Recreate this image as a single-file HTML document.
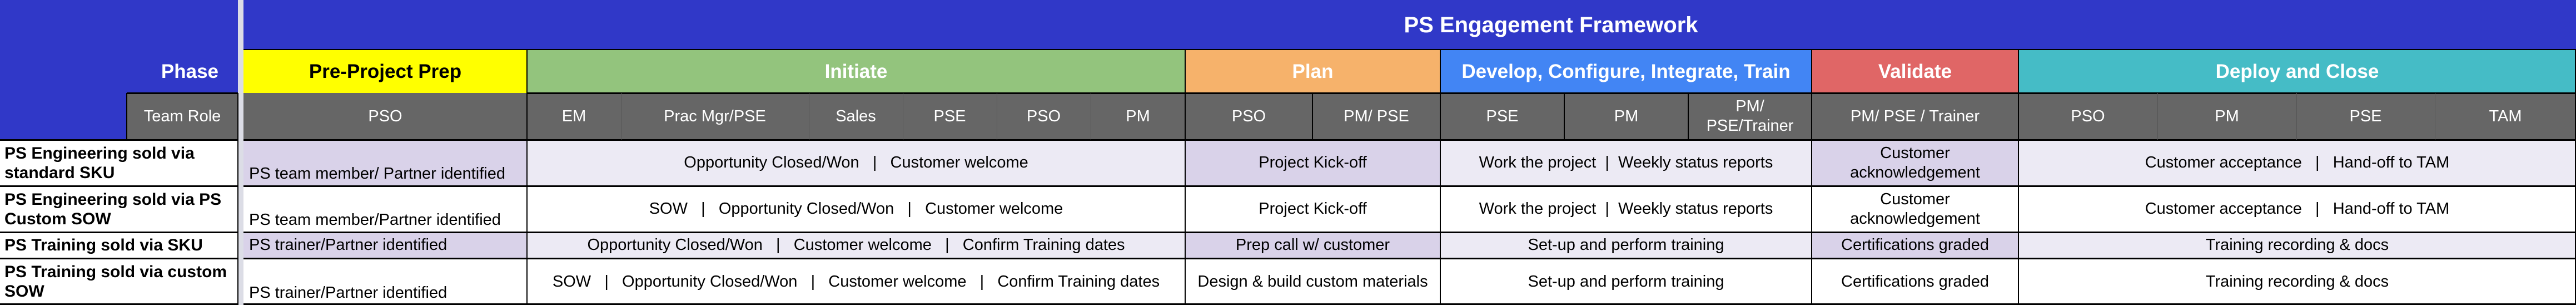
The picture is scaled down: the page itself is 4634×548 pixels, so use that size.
<!DOCTYPE html>
<html><head><meta charset="utf-8"><style>
*{margin:0;padding:0;box-sizing:border-box}
body{width:4634px;height:548px;position:relative;background:#fff;font-family:"Liberation Sans",Arial,sans-serif;overflow:hidden}
.c{position:absolute;display:flex;align-items:center;justify-content:center;text-align:center;font-size:29px;color:#000;line-height:35px;white-space:nowrap}
.h{font-weight:bold;font-size:35px;color:#fff}
.r{color:#fff;font-size:29px;background:#666}
.b{align-items:flex-end;padding-bottom:4px;justify-content:flex-start;padding-left:10px}
.lbl{justify-content:flex-start;text-align:left;font-weight:bold;padding-left:8px;font-size:30px}
.l{position:absolute;background:#000}
.s{position:absolute;background:#555}
.lt{background:#ECEAF4}.dk{background:#D9D2E9}
</style></head><body>
<div class="c" style="left:0;top:0;width:4634px;height:251px;background:#3038C8"></div>
<div class="c" style="left:428px;top:0;width:10px;height:548px;background:#DCDDE6"></div>
<div class="c h" style="left:2400px;top:10px;width:780px;height:70px;font-size:40px">PS Engagement Framework</div>
<div class="c h" style="left:228px;top:89px;width:200px;height:78px;justify-content:flex-end;padding-right:35px">Phase</div>
<div class="c r" style="left:228px;top:167px;width:200px;height:84px">Team Role</div>

<div class="c h" style="left:438px;top:89px;width:510px;height:78px;background:#FFFF00;color:#000">Pre-Project Prep</div>
<div class="c h" style="left:948px;top:89px;width:1184px;height:78px;background:#93C47D">Initiate</div>
<div class="c h" style="left:2132px;top:89px;width:459px;height:78px;background:#F6B26B">Plan</div>
<div class="c h" style="left:2591px;top:89px;width:668px;height:78px;background:#4285F4">Develop, Configure, Integrate, Train</div>
<div class="c h" style="left:3259px;top:89px;width:372px;height:78px;background:#E06666">Validate</div>
<div class="c h" style="left:3631px;top:89px;width:1003px;height:78px;background:#45BCC6">Deploy and Close</div>

<div class="c r" style="left:438px;top:167px;width:510px;height:84px">PSO</div>
<div class="c r" style="left:948px;top:167px;width:169px;height:84px">EM</div>
<div class="c r" style="left:1117px;top:167px;width:338px;height:84px">Prac Mgr/PSE</div>
<div class="c r" style="left:1455px;top:167px;width:169px;height:84px">Sales</div>
<div class="c r" style="left:1624px;top:167px;width:169px;height:84px">PSE</div>
<div class="c r" style="left:1793px;top:167px;width:169px;height:84px">PSO</div>
<div class="c r" style="left:1962px;top:167px;width:170px;height:84px">PM</div>
<div class="c r" style="left:2132px;top:167px;width:229px;height:84px">PSO</div>
<div class="c r" style="left:2361px;top:167px;width:230px;height:84px">PM/ PSE</div>
<div class="c r" style="left:2591px;top:167px;width:223px;height:84px">PSE</div>
<div class="c r" style="left:2814px;top:167px;width:223px;height:84px">PM</div>
<div class="c r" style="left:3037px;top:167px;width:222px;height:84px">PM/<br>PSE/Trainer</div>
<div class="c r" style="left:3259px;top:167px;width:372px;height:84px">PM/ PSE / Trainer</div>
<div class="c r" style="left:3631px;top:167px;width:250px;height:84px">PSO</div>
<div class="c r" style="left:3881px;top:167px;width:250px;height:84px">PM</div>
<div class="c r" style="left:4131px;top:167px;width:249px;height:84px">PSE</div>
<div class="c r" style="left:4380px;top:167px;width:254px;height:84px">TAM</div>

<div class="c lbl" style="left:0;top:251px;width:428px;height:83px">PS Engineering sold via<br>standard SKU</div>
<div class="c dk b" style="left:438px;top:251px;width:510px;height:83px">PS team member/ Partner identified</div>
<div class="c lt" style="left:948px;top:251px;width:1184px;height:83px">Opportunity Closed/Won &nbsp;&nbsp;| &nbsp;&nbsp;Customer welcome</div>
<div class="c dk" style="left:2132px;top:251px;width:459px;height:83px">Project Kick-off</div>
<div class="c lt" style="left:2591px;top:251px;width:668px;height:83px">Work the project &nbsp;| &nbsp;Weekly status reports</div>
<div class="c dk" style="left:3259px;top:251px;width:372px;height:83px">Customer<br>acknowledgement</div>
<div class="c lt" style="left:3631px;top:251px;width:1003px;height:83px">Customer acceptance &nbsp;&nbsp;| &nbsp;&nbsp;Hand-off to TAM</div>

<div class="c lbl" style="left:0;top:334px;width:428px;height:83px">PS Engineering sold via PS<br>Custom SOW</div>
<div class="c b" style="left:438px;top:334px;width:510px;height:83px">PS team member/Partner identified</div>
<div class="c" style="left:948px;top:334px;width:1184px;height:83px">SOW &nbsp;&nbsp;| &nbsp;&nbsp;Opportunity Closed/Won &nbsp;&nbsp;| &nbsp;&nbsp;Customer welcome</div>
<div class="c" style="left:2132px;top:334px;width:459px;height:83px">Project Kick-off</div>
<div class="c" style="left:2591px;top:334px;width:668px;height:83px">Work the project &nbsp;| &nbsp;Weekly status reports</div>
<div class="c" style="left:3259px;top:334px;width:372px;height:83px">Customer<br>acknowledgement</div>
<div class="c" style="left:3631px;top:334px;width:1003px;height:83px">Customer acceptance &nbsp;&nbsp;| &nbsp;&nbsp;Hand-off to TAM</div>

<div class="c lbl" style="left:0;top:417px;width:428px;height:47px">PS Training sold via SKU</div>
<div class="c dk" style="left:438px;top:417px;width:510px;height:47px;justify-content:flex-start;padding-left:10px">PS trainer/Partner identified</div>
<div class="c lt" style="left:948px;top:417px;width:1184px;height:47px">Opportunity Closed/Won &nbsp;&nbsp;| &nbsp;&nbsp;Customer welcome &nbsp;&nbsp;| &nbsp;&nbsp;Confirm Training dates</div>
<div class="c dk" style="left:2132px;top:417px;width:459px;height:47px">Prep call w/ customer</div>
<div class="c lt" style="left:2591px;top:417px;width:668px;height:47px">Set-up and perform training</div>
<div class="c dk" style="left:3259px;top:417px;width:372px;height:47px">Certifications graded</div>
<div class="c lt" style="left:3631px;top:417px;width:1003px;height:47px">Training recording &amp; docs</div>

<div class="c lbl" style="left:0;top:464px;width:428px;height:84px">PS Training sold via custom<br>SOW</div>
<div class="c b" style="left:438px;top:464px;width:510px;height:84px">PS trainer/Partner identified</div>
<div class="c" style="left:948px;top:464px;width:1184px;height:84px">SOW &nbsp;&nbsp;| &nbsp;&nbsp;Opportunity Closed/Won &nbsp;&nbsp;| &nbsp;&nbsp;Customer welcome &nbsp;&nbsp;| &nbsp;&nbsp;Confirm Training dates</div>
<div class="c" style="left:2132px;top:464px;width:459px;height:84px">Design &amp; build custom materials</div>
<div class="c" style="left:2591px;top:464px;width:668px;height:84px">Set-up and perform training</div>
<div class="c" style="left:3259px;top:464px;width:372px;height:84px">Certifications graded</div>
<div class="c" style="left:3631px;top:464px;width:1003px;height:84px">Training recording &amp; docs</div>

<div class="l" style="left:438px;top:88px;width:4196px;height:2px"></div>
<div class="l" style="left:228px;top:166px;width:200px;height:3px"></div>
<div class="l" style="left:948px;top:166px;width:3686px;height:3px"></div>
<div class="l" style="left:0;top:250px;width:428px;height:3px"></div>
<div class="l" style="left:438px;top:250px;width:4196px;height:3px"></div>
<div class="l" style="left:0;top:333px;width:428px;height:3px"></div>
<div class="l" style="left:438px;top:333px;width:4196px;height:3px"></div>
<div class="l" style="left:0;top:416px;width:428px;height:3px"></div>
<div class="l" style="left:438px;top:416px;width:4196px;height:3px"></div>
<div class="l" style="left:0;top:463px;width:428px;height:3px"></div>
<div class="l" style="left:438px;top:463px;width:4196px;height:3px"></div>
<div class="l" style="left:0;top:545px;width:428px;height:3px"></div>
<div class="l" style="left:438px;top:545px;width:4196px;height:3px"></div>
<div class="l" style="left:227px;top:167px;width:2px;height:84px"></div>
<div class="l" style="left:427px;top:167px;width:2px;height:381px"></div>
<div class="l" style="left:947px;top:89px;width:2px;height:459px"></div>
<div class="l" style="left:2131px;top:89px;width:2px;height:459px"></div>
<div class="l" style="left:2590px;top:89px;width:2px;height:459px"></div>
<div class="l" style="left:3258px;top:89px;width:2px;height:459px"></div>
<div class="l" style="left:3630px;top:89px;width:2px;height:459px"></div>
<div class="l" style="left:4632px;top:89px;width:2px;height:459px"></div>
<div class="s" style="left:1117px;top:167px;width:1px;height:84px"></div>
<div class="s" style="left:1455px;top:167px;width:1px;height:84px"></div>
<div class="s" style="left:1624px;top:167px;width:1px;height:84px"></div>
<div class="s" style="left:1793px;top:167px;width:1px;height:84px"></div>
<div class="s" style="left:1962px;top:167px;width:1px;height:84px"></div>
<div class="l" style="left:2360px;top:167px;width:2px;height:84px"></div>
<div class="l" style="left:2813px;top:167px;width:2px;height:84px"></div>
<div class="l" style="left:3036px;top:167px;width:2px;height:84px"></div>
<div class="s" style="left:3881px;top:167px;width:1px;height:84px"></div>
<div class="s" style="left:4131px;top:167px;width:1px;height:84px"></div>
<div class="s" style="left:4380px;top:167px;width:1px;height:84px"></div>
</body></html>
